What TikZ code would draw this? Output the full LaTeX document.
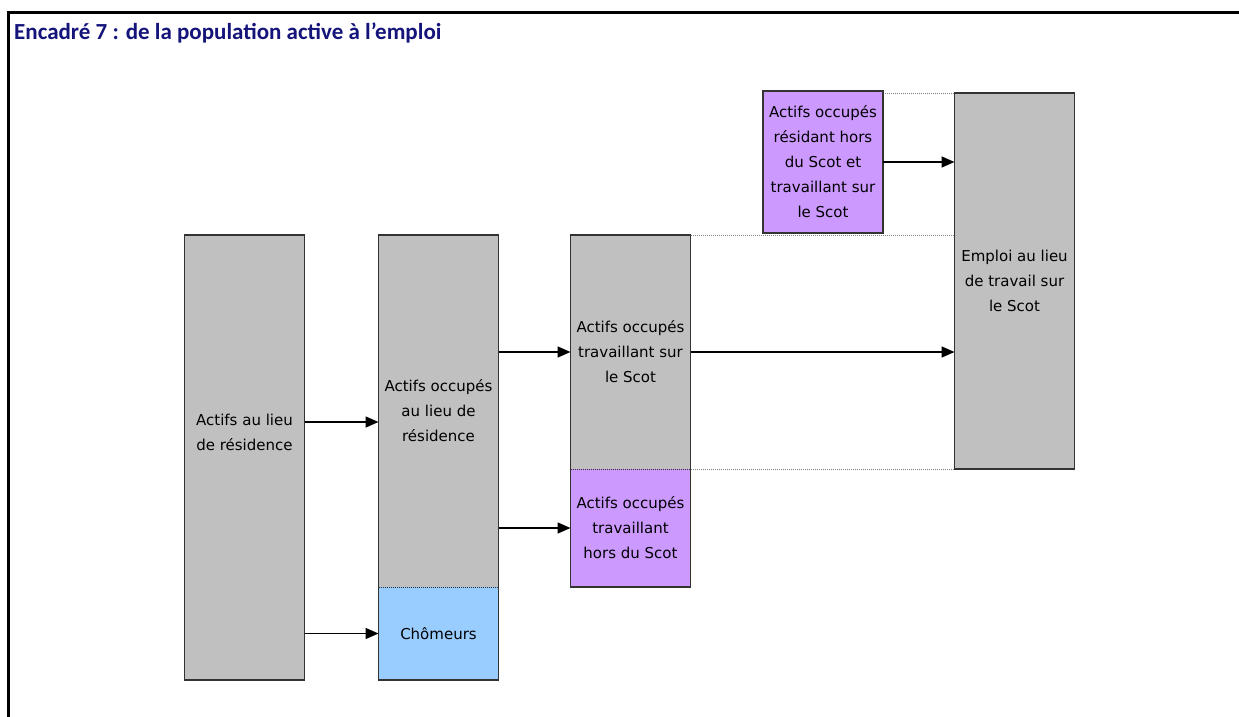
\documentclass[tikz,border=0pt]{standalone}
\usepackage{fontspec}
\usepackage{xcolor}
\usepackage{tikz}
\usetikzlibrary{positioning,arrows.meta,calc}
\newfontfamily\titlefont{Carlito}
\newfontfamily\boxfont{DejaVu Sans}
\definecolor{navytitle}{HTML}{14147A}
\definecolor{boxgrey}{HTML}{C0C0C0}
\definecolor{lilac}{HTML}{CC99FF}
\definecolor{skyblue}{HTML}{99CCFF}
\definecolor{edge}{HTML}{333333}
\definecolor{guide}{HTML}{808080}
\tikzset{
  col/.style={rectangle, fill=#1, draw=edge, line width=1.4pt,
              minimum width=120pt, inner sep=0pt, outer sep=0pt,
              align=center, font=\boxfont\fontsize{15}{25}\selectfont},
  part/.style={col=#1, draw=none},
  divider/.style={draw=edge, line width=1pt, dash pattern=on 1pt off 1pt},
  guideline/.style={draw=guide, line width=1pt, dash pattern=on 1pt off 1pt},
  arr/.style={-{Triangle[length=13pt,width=11pt]}, line width=1.6pt, draw=black},
  frame/.style={draw=black, line width=2.2pt},
}

\begin{document}
\begin{tikzpicture}[x=1pt,y=-1pt]
  \useasboundingbox (0,0) rectangle (1239,717);

  % frame and title
  \draw[frame] (1239,12.5) -- (8.5,12.5) -- (8.5,717);
  \node[anchor=base west, inner sep=0pt, font=\titlefont\bfseries\fontsize{23}{26}\selectfont,
        text=navytitle] (title) at (14,39.5) {Encadré 7 : de la population active à l’emploi};

  % dotted guides
  \draw[guideline] (691,235) -- (954,235);
  \draw[guideline] (883,93) -- (954,93);
  \draw[guideline] (691,469) -- (954,469);

  % columns
  \node[col=boxgrey, minimum height=445pt,
        label={[font=\boxfont\fontsize{15}{25}\selectfont, align=center, yshift=25pt]center:Actifs au lieu\\de résidence}]
        (resid) at (244.5,457.5) {};

  \node[part=boxgrey, minimum height=352pt] (occres) at (438.5,411) {Actifs occupés\\au lieu de\\résidence};
  \node[part=skyblue, minimum height=93pt, below=0pt of occres] (chom) {Chômeurs};
  \draw[col=none, fill=none] (occres.north west) rectangle (chom.south east);
  \draw[divider] (occres.south west) -- (occres.south east);

  \node[part=boxgrey, minimum height=234pt] (travsur) at (630.5,352) {Actifs occupés\\travaillant sur\\le Scot};
  \node[part=lilac, minimum height=118pt, below=0pt of travsur] (travhors) {Actifs occupés\\travaillant\\hors du Scot};
  \draw[col=none, fill=none] (travsur.north west) rectangle (travhors.south east);
  \draw[divider] (travsur.south west) -- (travsur.south east);

  \node[col=lilac, minimum height=142pt] (entrants) at (823,162) {Actifs occupés\\résidant hors\\du Scot et\\travaillant sur\\le Scot};

  \node[col=boxgrey, minimum height=376pt] (emploi) at (1014.5,281) {Emploi au lieu\\de travail sur\\le Scot};

  % flows
  \draw[arr] (resid.east |- 0,422) -- (occres.west |- 0,422);
  \draw[arr] (resid.east |- chom.west) -- (chom.west);
  \draw[arr] (occres.east |- travsur.west) -- (travsur.west);
  \draw[arr] (occres.east |- travhors.west) -- (travhors.west);
  \draw[arr] (travsur.east) -- (emploi.west |- travsur.east);
  \draw[arr] (entrants.east) -- (emploi.west |- entrants.east);
\end{tikzpicture}
\end{document}
